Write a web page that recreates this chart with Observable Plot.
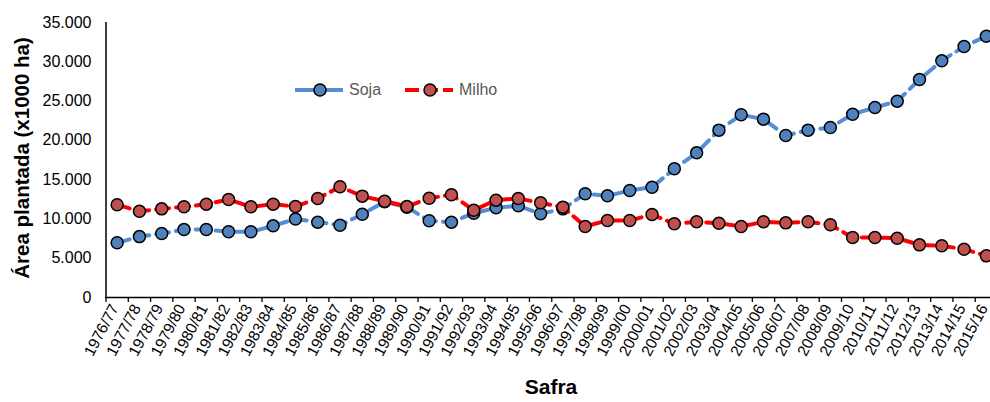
<!DOCTYPE html>
<html>
<head>
<meta charset="utf-8">
<script src="https://cdn.jsdelivr.net/npm/d3@7"></script>
<script src="https://cdn.jsdelivr.net/npm/@observablehq/plot@0.6"></script>
<style>
  html, body { margin: 0; padding: 0; background: #fff; overflow: hidden; }
  #wrap { position: relative; width: 990px; height: 402px; font-family: "Liberation Sans", Arial, sans-serif; }
  #legend { position: absolute; left: 0; top: 0; width: 990px; height: 0; }
  #legend .sw { position: absolute; }
  #legend .lb { position: absolute; font-size: 16px; color: #595959; line-height: 16px; }
</style>
</head>
<body>
<div id="wrap"><div id="legend"></div></div>
<script>
const safras = ["1976/77","1977/78","1978/79","1979/80","1980/81","1981/82","1982/83","1983/84","1984/85","1985/86",
  "1986/87","1987/88","1988/89","1989/90","1990/91","1991/92","1992/93","1993/94","1994/95","1995/96",
  "1996/97","1997/98","1998/99","1999/00","2000/01","2001/02","2002/03","2003/04","2004/05","2005/06",
  "2006/07","2007/08","2008/09","2009/10","2010/11","2011/12","2012/13","2013/14","2014/15","2015/16"];
const soja = [6960, 7750, 8150, 8650, 8650, 8360, 8360, 9120, 10000, 9590,
  9200, 10600, 12200, 11500, 9760, 9590, 10730, 11420, 11670, 10650,
  11280, 13200, 12940, 13620, 14040, 16380, 18410, 21300, 23250, 22700,
  20620, 21300, 21640, 23330, 24180, 24990, 27750, 30120, 31950, 33260];
const milho = [11800, 10980, 11280, 11540, 11880, 12470, 11540, 11880, 11580, 12600,
  14090, 12900, 12260, 11580, 12640, 13070, 11110, 12390, 12600, 12050,
  11500, 9040, 9800, 9800, 10560, 9380, 9630, 9460, 9040, 9630,
  9500, 9630, 9250, 7640, 7640, 7550, 6700, 6580, 6150, 5300];
const yTicks = [0, 5000, 10000, 15000, 20000, 25000, 30000, 35000];
const seriesNames = ["Soja", "Milho"];
const lineColors = ["#558ED5", "#FF0000"];
const dotColors = ["#4F81BD", "#C0504D"];

const sojaData = safras.map((s, i) => ({i, safra: s, v: soja[i]}));
const milhoData = safras.map((s, i) => ({i, safra: s, v: milho[i]}));
const fmt = d => d === 0 ? "0" : d3.format(",")(d).replace(/,/g, ".");
const boundaries = d3.range(-0.5, safras.length, 1);
const dash = "13,7";

const chart = Plot.plot({
  width: 990,
  height: 402,
  marginTop: 22,
  marginBottom: 105,
  marginLeft: 105,
  marginRight: 0,
  style: {fontFamily: "Liberation Sans, Arial, sans-serif", background: "#fff", color: "#000"},
  x: {type: "linear", domain: [-0.5, safras.length - 0.5], range: [105.5, 997]},
  y: {domain: [0, 35000], range: [297, 22]},
  marks: [
    Plot.axisY({ticks: yTicks, tickSize: 0, tickPadding: 14, tickFormat: fmt, fontSize: 16, label: null}),
    Plot.axisX({ticks: boundaries, tickSize: 5, tickFormat: () => "", strokeWidth: 1.3, label: null}),
    Plot.axisX({ticks: d3.range(safras.length), tickSize: 0, tickPadding: 8, tickRotate: -62,
      tickFormat: i => safras[i], fontSize: 15.5, dx: -2.5, label: null}),
    Plot.ruleY([0], {stroke: "#000", strokeWidth: 1.5}),
    Plot.ruleX([-0.5], {stroke: "#000", strokeWidth: 1.5}),
    Plot.line(sojaData, {x: "i", y: "v", stroke: lineColors[0], strokeWidth: 4, strokeDasharray: dash}),
    Plot.dot(sojaData, {x: "i", y: "v", r: 6, fill: dotColors[0], stroke: "#000", strokeWidth: 1.5}),
    Plot.line(milhoData, {x: "i", y: "v", stroke: lineColors[1], strokeWidth: 4, strokeDasharray: dash}),
    Plot.dot(milhoData, {x: "i", y: "v", r: 6, fill: dotColors[1], stroke: "#000", strokeWidth: 1.5}),
    Plot.text(["Área plantada (x1000 ha)"], {frameAnchor: "left", textAnchor: "middle", dx: -83, dy: -2, rotate: -90,
      fontSize: 20.5, fontWeight: "bold", fill: "#000"}),
    Plot.text(["Safra"], {frameAnchor: "bottom", dx: 3, dy: 96, fontSize: 21, fontWeight: "bold", fill: "#000"})
  ]
});
document.getElementById("wrap").prepend(chart);

// legend overlay
const legend = document.getElementById("legend");
const legendLefts = [295, 405];
seriesNames.forEach((name, k) => {
  const left = legendLefts[k];
  const ns = "http://www.w3.org/2000/svg";
  const svg = document.createElementNS(ns, "svg");
  svg.setAttribute("width", 50); svg.setAttribute("height", 16);
  svg.setAttribute("class", "sw");
  svg.style.left = left + "px"; svg.style.top = "82px";
  const ln = document.createElementNS(ns, "line");
  ln.setAttribute("x1", 0); ln.setAttribute("x2", 48); ln.setAttribute("y1", 8); ln.setAttribute("y2", 8);
  ln.setAttribute("stroke", lineColors[k]); ln.setAttribute("stroke-width", 4);
  if (k === 1) ln.setAttribute("stroke-dasharray", "14,5");
  svg.appendChild(ln);
  const c = document.createElementNS(ns, "circle");
  c.setAttribute("cx", 25); c.setAttribute("cy", 8); c.setAttribute("r", 6);
  c.setAttribute("fill", dotColors[k]); c.setAttribute("stroke", "#000"); c.setAttribute("stroke-width", 1.5);
  svg.appendChild(c);
  legend.appendChild(svg);
  const lb = document.createElement("div");
  lb.className = "lb"; lb.textContent = name;
  lb.style.left = (left + 54) + "px"; lb.style.top = "82px";
  legend.appendChild(lb);
});
</script>
</body>
</html>
